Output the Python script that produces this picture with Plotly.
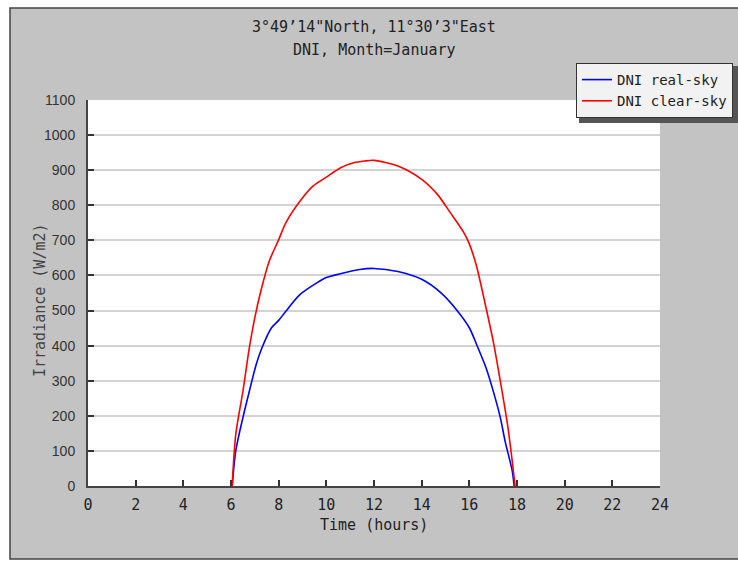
import plotly.graph_objects as go

# ---- data ----
hours_clear = [6.05, 6.2, 6.5, 6.77, 7.0, 7.25, 7.6, 8.0, 8.3, 8.9, 9.45, 10.0, 10.6, 11.15, 11.6, 12.0,
               13.0, 14.0, 14.66, 15.2, 15.77, 16.0, 16.3, 16.7, 17.0, 17.3, 17.6, 17.8, 17.92]
dni_clear = [0, 147, 270, 394, 480, 555, 640, 702, 750, 812, 855, 880, 907, 921, 926, 928,
             912, 874, 831, 779, 722, 690, 627, 508, 413, 299, 176, 71, 0]

hours_real = [6.05, 6.2, 6.5, 6.77, 7.06, 7.3, 7.7, 8.0, 8.3, 8.9, 9.6, 10.0, 10.6, 11.4, 12.0,
              13.0, 14.0, 14.8, 15.5, 16.0, 16.3, 16.7, 17.0, 17.3, 17.5, 17.8, 17.88]
dni_real = [0, 100, 195, 270, 347, 394, 451, 472, 498, 546, 579, 594, 605, 617, 620,
            611, 589, 551, 499, 451, 404, 337, 271, 195, 128, 43, 0]

x_ticks = list(range(0, 25, 2))
y_ticks = list(range(0, 1101, 100))

title_line1 = "3°49’14\"North, 11°30’3\"East"
title_line2 = "DNI, Month=January"

W, H = 738, 561
L, R, T, B = 88, 78, 100, 75
pw, ph = W - L - R, H - T - B

def px(xp):
    return (xp - L) / pw

def py(yp):
    return (H - B - yp) / ph

MONO = "DejaVu Sans Mono"
GRAY = "#c3c3c3"

fig = go.Figure()
fig.add_trace(go.Scatter(x=hours_real, y=dni_real, mode="lines", name="DNI real-sky",
                         line=dict(color="#0000ff", width=1.6, shape="spline", smoothing=0.8)))
fig.add_trace(go.Scatter(x=hours_clear, y=dni_clear, mode="lines", name="DNI clear-sky",
                         line=dict(color="#ff0000", width=1.6, shape="spline", smoothing=0.8)))

shapes = [
    # grey panel
    dict(type="rect", xref="paper", yref="paper", x0=px(10), x1=px(745), y0=py(559), y1=py(8),
         fillcolor=GRAY, line=dict(color="#444444", width=1.5), layer="below"),
    # white plot area
    dict(type="rect", xref="paper", yref="paper", x0=0, x1=1, y0=0, y1=1,
         fillcolor="white", line=dict(width=0), layer="below"),
    # legend shadow
    dict(type="rect", xref="paper", yref="paper", x0=px(579), x1=px(745), y0=py(123), y1=py(66),
         fillcolor="#555555", line=dict(width=0), layer="below"),
]

annotations = [
    dict(text=title_line1, xref="paper", yref="paper", x=0.5, y=py(27), showarrow=False,
         xanchor="center", yanchor="middle", font=dict(family=MONO, size=15, color="#222222")),
    dict(text=title_line2, xref="paper", yref="paper", x=0.5, y=py(50), showarrow=False,
         xanchor="center", yanchor="middle", font=dict(family=MONO, size=15, color="#222222")),
    dict(text="Irradiance (W/m2)", xref="paper", yref="paper", x=px(40), y=py(300), showarrow=False,
         textangle=-90, xanchor="center", yanchor="middle", font=dict(family=MONO, size=15, color="#444444")),
    dict(text="Time (hours)", xref="paper", yref="paper", x=0.5, y=py(525), showarrow=False,
         xanchor="center", yanchor="middle", font=dict(family=MONO, size=15, color="#222222")),
]

fig.update_layout(
    width=W, height=H,
    margin=dict(l=L, r=R, t=T, b=B, autoexpand=False),
    paper_bgcolor="white",
    plot_bgcolor="rgba(0,0,0,0)",
    shapes=shapes,
    annotations=annotations,
    showlegend=True,
    legend=dict(x=px(576), y=py(63), xanchor="left", yanchor="top",
                bgcolor="#f2f2f2", bordercolor="#333333", borderwidth=1,
                font=dict(family=MONO, size=14, color="#222222"),
                itemwidth=30, tracegroupgap=0),
)

fig.update_xaxes(range=[0, 24], tickvals=x_ticks, ticktext=[str(v) for v in x_ticks],
                 ticks="inside", ticklen=6, tickwidth=1.5, tickcolor="#333333",
                 showline=True, linecolor="#444444", linewidth=2, showgrid=False, zeroline=False,
                 tickfont=dict(family=MONO, size=15, color="#222222"), ticklabelstandoff=4,
                 fixedrange=True)
fig.update_yaxes(range=[0, 1100], tickvals=y_ticks, ticktext=[str(v) for v in y_ticks],
                 ticks="inside", ticklen=6, tickwidth=1.5, tickcolor="#333333",
                 showline=True, linecolor="#444444", linewidth=2,
                 showgrid=True, gridcolor="#d3d3d3", gridwidth=2, zeroline=False,
                 tickfont=dict(family="Liberation Sans", size=14, color="#333333"), ticklabelstandoff=8,
                 fixedrange=True)

fig.write_html("out.html")
